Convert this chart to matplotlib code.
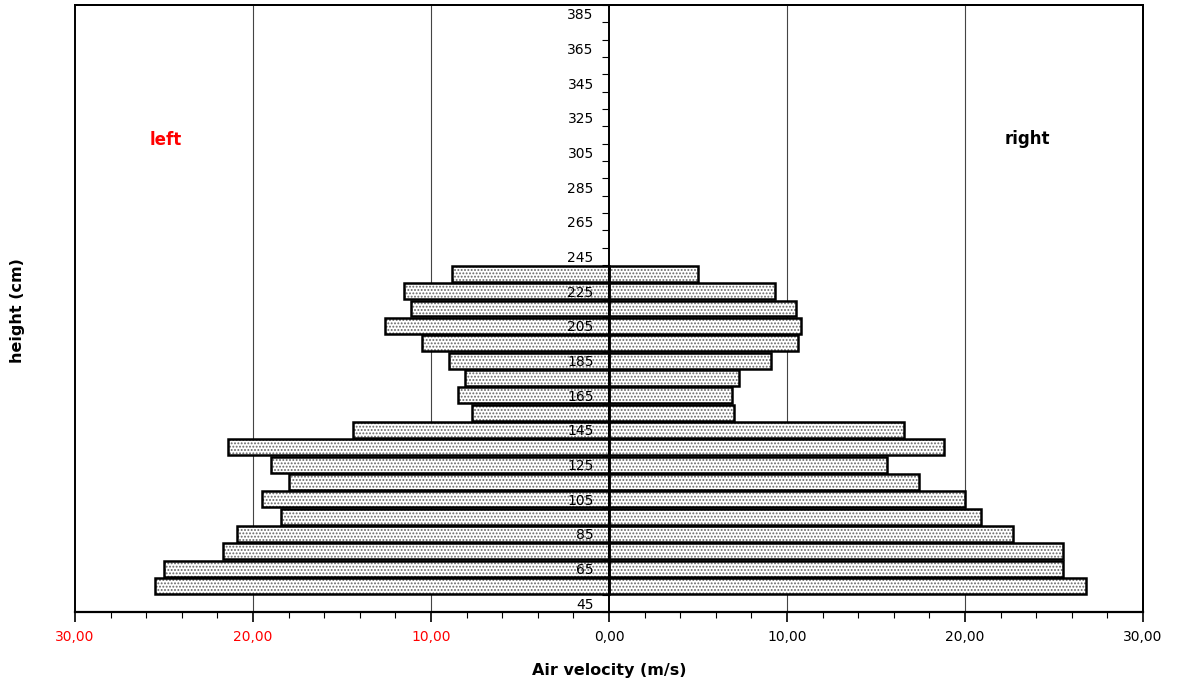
import matplotlib.pyplot as plt
from matplotlib.patches import Rectangle
from matplotlib.ticker import MultipleLocator, FixedLocator

# data
heights = [55, 65, 75, 85, 95, 105, 115, 125, 135, 145,
           155, 165, 175, 185, 195, 205, 215, 225, 235]
left_vel = [25.5, 25.0, 21.7, 20.9, 18.4, 19.5, 18.0, 19.0, 21.4, 14.4,
            7.7, 8.5, 8.1, 9.0, 10.5, 12.6, 11.1, 11.5, 8.8]
right_vel = [26.8, 25.5, 25.5, 22.7, 20.9, 20.0, 17.4, 15.6, 18.8, 16.6,
             7.0, 6.9, 7.3, 9.1, 10.6, 10.8, 10.5, 9.3, 5.0]
height_labels = [45, 65, 85, 105, 125, 145, 165, 185, 205, 225,
                 245, 265, 285, 305, 325, 345, 365, 385]
x_ticks = [-30, -20, -10, 0, 10, 20, 30]
x_labels = ['30,00', '20,00', '10,00', '0,00', '10,00', '20,00', '30,00']
x_label_colors = ['red', 'red', 'red', 'black', 'black', 'black', 'black']

plt.rcParams['font.family'] = ['DejaVu Sans']
plt.rcParams['hatch.linewidth'] = 0.9

fig = plt.figure(figsize=(11.78, 6.88), dpi=100)
ax = fig.add_axes([75 / 1178, 1 - 612 / 688, (1143 - 75) / 1178, (612 - 5) / 688])
ax.set_axisbelow(False)

neg_left = [-v for v in left_vel]
bh = 9.2

# dotted fill, then black outline on top
ax.barh(heights, neg_left, height=bh, color='white', hatch='.....',
        edgecolor='#666666', linewidth=0, zorder=1.5)
ax.barh(heights, right_vel, height=bh, color='white', hatch='.....',
        edgecolor='#666666', linewidth=0, zorder=1.5)
ax.barh(heights, neg_left, height=bh, fill=False, edgecolor='black',
        linewidth=1.8, zorder=2)
ax.barh(heights, right_vel, height=bh, fill=False, edgecolor='black',
        linewidth=1.8, zorder=2)

ax.set_xlim(-30, 30)
ax.set_ylim(40, 390)

# vertical grid
for xv in [-20, -10, 10, 20]:
    ax.axvline(xv, color='#444444', linewidth=0.8, zorder=1)

# y axis in the middle
ax.spines['left'].set_position(('data', 0))
ax.spines['left'].set_linewidth(1.4)
ax.spines['right'].set_linewidth(1.4)
ax.spines['top'].set_linewidth(1.4)
ax.spines['bottom'].set_linewidth(1.6)
ax.add_patch(Rectangle((0, 0), 1, 1, transform=ax.transAxes, fill=False,
                       edgecolor='black', linewidth=1.4, zorder=5, clip_on=False))

ax.yaxis.set_major_locator(FixedLocator(height_labels))
ax.yaxis.set_minor_locator(MultipleLocator(10, offset=0))
ax.set_yticklabels([str(h) for h in height_labels])
ax.tick_params(axis='y', which='major', length=0, pad=11, labelsize=10)
ax.tick_params(axis='y', which='minor', length=5, width=0.8, direction='out')

ax.set_xticks(x_ticks)
ax.set_xticklabels(x_labels)
ax.xaxis.set_minor_locator(MultipleLocator(2))
ax.tick_params(axis='x', which='major', length=7, width=1.2, labelsize=10, pad=6)
ax.tick_params(axis='x', which='minor', length=4, width=0.8)
for t, c in zip(ax.get_xticklabels(), x_label_colors):
    t.set_color(c)

ax.set_xlabel('Air velocity (m/s)', fontsize=11.5, fontweight='bold', labelpad=14)
fig.text(18 / 1178, 1 - 311 / 688, 'height (cm)', rotation=90, fontsize=11.5,
         fontweight='bold', ha='center', va='center')

ax.text(-24.9, 312, 'left', color='red', fontsize=12, fontweight='bold',
        ha='center', va='center')
ax.text(23.5, 313, 'right', color='black', fontsize=12, fontweight='bold',
        ha='center', va='center')

plt.savefig('out.png', dpi=100)
